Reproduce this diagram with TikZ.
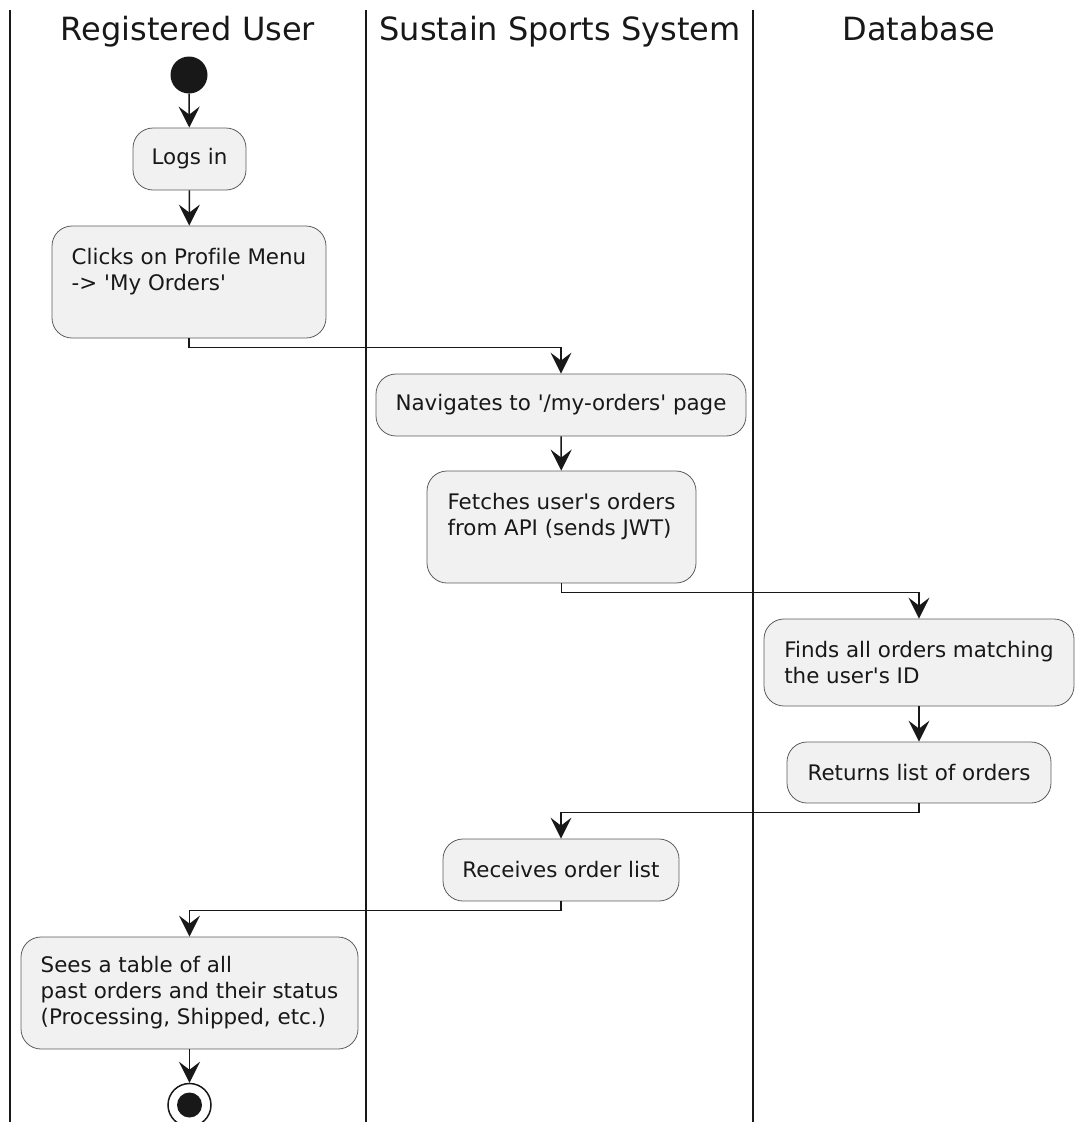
\documentclass[tikz,border=0pt]{standalone}
\usepackage{fontspec}
\newfontfamily\dv{DejaVu Sans}[Ligatures=NoCommon]
\usetikzlibrary{arrows.meta}
\definecolor{boxfill}{HTML}{F1F1F1}
\definecolor{ink}{HTML}{181818}
\begin{document}
\begin{tikzpicture}[x=1pt,y=-1pt,
  box/.style={draw=ink!70, line width=0.8pt, fill=boxfill, rounded corners=20pt,
    align=left, inner sep=0pt, text=ink, font=\dv\fontsize{21.4pt}{26pt}\selectfont},
  lanetitle/.style={text=ink, font=\dv\fontsize{32pt}{38pt}\selectfont, inner sep=0pt, anchor=base},
  arr/.style={draw=ink, line width=1.5pt, -{Stealth[length=21pt,width=21pt,inset=8pt]}},
  laneline/.style={draw=ink, line width=2.2pt}]
\useasboundingbox (0,0) rectangle (1074,1122);
% swimlanes
\draw[laneline] (10,10) -- (10,1122);
\draw[laneline] (366,10) -- (366,1122);
\draw[laneline] (753,10) -- (753,1122);
\node[lanetitle] (t1) at (188,40) {Registered User};
\node[lanetitle] (t2) at (560,40) {Sustain Sports System};
\node[lanetitle] (t3) at (919,40) {Database};
% nodes
\node[circle, fill=ink, minimum size=37pt, inner sep=0pt] (start) at (189,75) {};
\node[box, minimum width=113pt, minimum height=62pt] (login) at (189.5,159) {Logs in};
\node[box, minimum width=274pt, minimum height=112pt] (clicks) at (189,282) {Clicks on Profile Menu\\-> 'My Orders'\\\mbox{}};
\node[box, minimum width=370pt, minimum height=62pt] (nav) at (561,405) {Navigates to '/my-orders' page};
\node[box, minimum width=269pt, minimum height=112pt] (fetch) at (561.5,527) {Fetches user's orders\\from API (sends JWT)\\\mbox{}};
\node[box, minimum width=310pt, minimum height=87pt] (finds) at (919,662.5) {Finds all orders matching\\the user's ID};
\node[box, minimum width=264pt, minimum height=61pt] (returns) at (919,772.5) {Returns list of orders};
\node[box, minimum width=236pt, minimum height=62pt] (recv) at (561,870) {Receives order list};
\node[box, minimum width=337pt, minimum height=112pt] (sees) at (189.5,993) {Sees a table of all\\past orders and their status\\(Processing, Shipped, etc.)};
\node[circle, draw=ink, line width=1.5pt, fill=white, minimum size=43pt, inner sep=0pt] (endo) at (189.5,1105) {};
\node[circle, fill=ink, minimum size=25pt, inner sep=0pt] (endi) at (endo.center) {};
% connectors
\draw[arr] (start) -- (login);
\draw[arr] (login) -- (clicks);
\draw[arr] (clicks.south) -- ++(0,9) -| (nav.north);
\draw[arr] (nav) -- (fetch);
\draw[arr] (fetch.south) -- ++(0,9) -| (finds.north);
\draw[arr] (finds) -- (returns);
\draw[arr] (returns.south) -- ++(0,9) -| (recv.north);
\draw[arr] (recv.south) -- ++(0,9) -| (sees.north);
\draw[arr] (sees.south) -- (endo.north);
\end{tikzpicture}
\end{document}
